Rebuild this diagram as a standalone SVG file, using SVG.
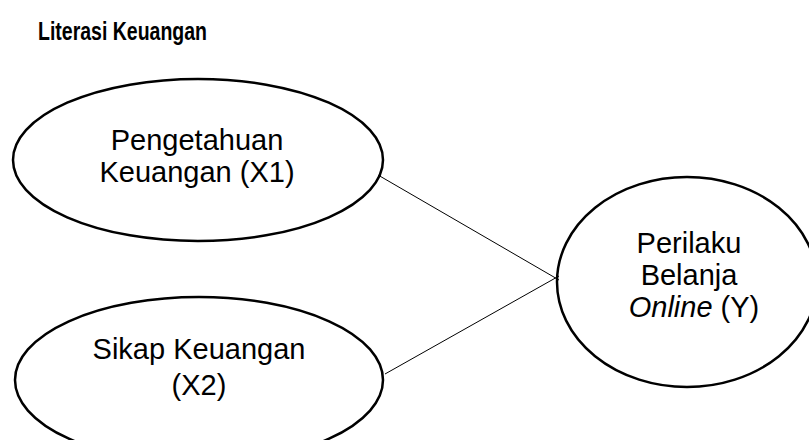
<svg xmlns="http://www.w3.org/2000/svg" width="809" height="440" viewBox="0 0 809 440">
<style>
.node{fill:#fff;stroke:#000;stroke-width:2.5}
.lbl{font-family:"Liberation Sans",Arial,sans-serif;font-size:29px;fill:#000;text-anchor:middle}
.title{font-family:"Liberation Sans",Arial,sans-serif;font-size:25px;font-weight:bold;fill:#000}
.edge{stroke:#000;stroke-width:1;fill:none}
</style>
<rect width="809" height="440" fill="#fff"/>
<text class="title" x="38" y="40" textLength="169" lengthAdjust="spacingAndGlyphs">Literasi Keuangan</text>
<g id="X1">
<ellipse class="node" cx="198" cy="160" rx="185" ry="81"/>
<text class="lbl" x="197" y="150">Pengetahuan</text>
<text class="lbl" x="197" y="182">Keuangan (X1)</text>
</g>
<g id="X2">
<ellipse class="node" cx="199" cy="380" rx="184" ry="83"/>
<text class="lbl" x="199" y="359">Sikap Keuangan</text>
<text class="lbl" x="199" y="395">(X2)</text>
</g>
<g id="Y">
<ellipse class="node" cx="687" cy="282" rx="130" ry="105"/>
<text class="lbl" x="689" y="253">Perilaku</text>
<text class="lbl" x="689" y="285">Belanja</text>
<text class="lbl" x="694" y="317"><tspan font-style="italic">Online</tspan> (Y)</text>
</g>
<g id="connectors">
<line class="edge" x1="378" y1="175" x2="559" y2="280"/>
<line class="edge" x1="385" y1="374" x2="559" y2="276"/>
</g>
</svg>
